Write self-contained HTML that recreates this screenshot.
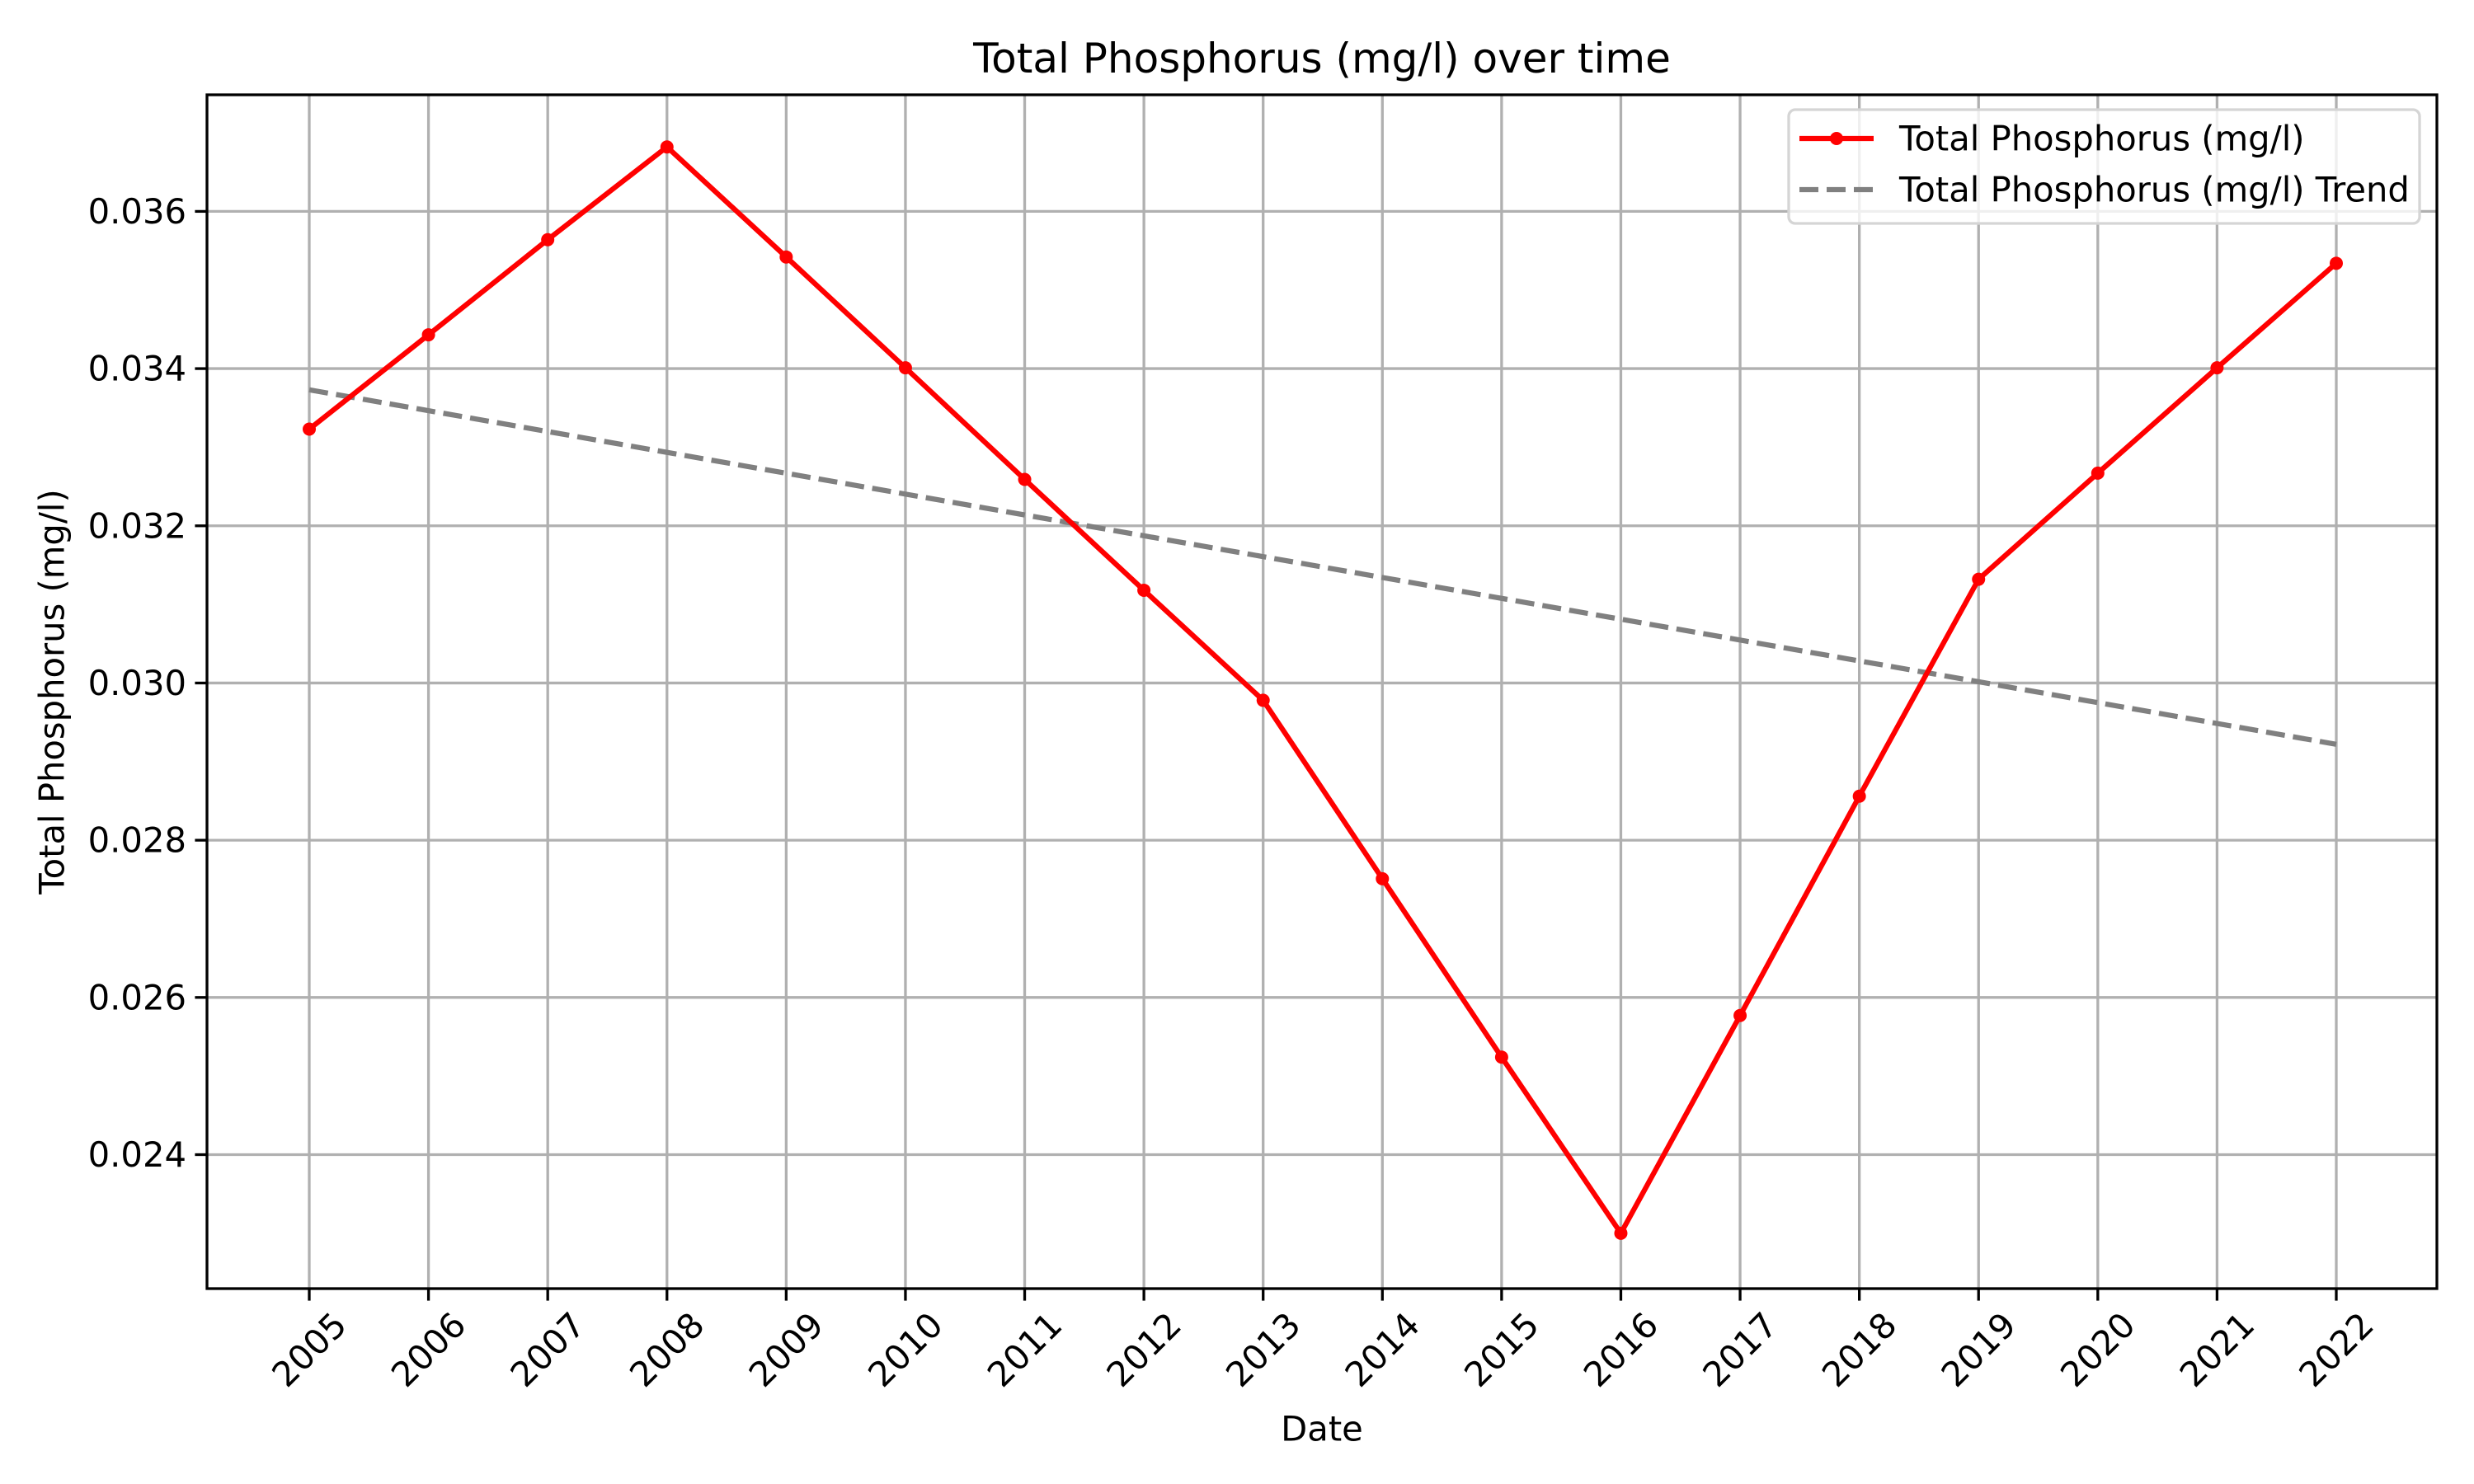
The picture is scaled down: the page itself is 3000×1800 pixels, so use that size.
<!DOCTYPE html>
<html><head><meta charset="utf-8"><style>body{margin:0;background:#fff}svg{display:block;font-family:"DejaVu Sans","Liberation Sans",sans-serif}</style></head>
<body>
<svg id="chart" width="3000" height="1800" viewBox="0 0 3000 1800" xmlns="http://www.w3.org/2000/svg">
<rect width="3000" height="1800" fill="#fff"/>
<g id="grid"></g>
<g id="series"></g>
<rect x="251" y="115" width="2704" height="1448" fill="none" stroke="#000" stroke-width="3.3"/>
<g id="ticks"></g>
<text x="1603" y="71" font-size="50" text-anchor="middle" dominant-baseline="central">Total Phosphorus (mg/l) over time</text>
<text x="1603" y="1733" font-size="41.7" text-anchor="middle" dominant-baseline="central">Date</text>
<text x="63" y="839" font-size="41.7" text-anchor="middle" dominant-baseline="central" transform="rotate(-90 63 839)">Total Phosphorus (mg/l)</text>
<g>
<rect x="2169" y="133" width="765" height="138" rx="8" fill="#fff" fill-opacity="0.8" stroke="#d5d5d5" stroke-width="3.3"/>
<line x1="2182" y1="168" x2="2272" y2="168" stroke="red" stroke-width="6.25"/>
<circle cx="2227" cy="168" r="8" fill="red"/>
<text x="2303" y="168" font-size="41.7" dominant-baseline="central">Total Phosphorus (mg/l)</text>
<line x1="2182" y1="230" x2="2272" y2="230" stroke="#808080" stroke-width="6.25" stroke-dasharray="23,10"/>
<text x="2303" y="230" font-size="41.7" dominant-baseline="central">Total Phosphorus (mg/l) Trend</text>
</g>
</svg>
<script>
const years = [2005,2006,2007,2008,2009,2010,2011,2012,2013,2014,2015,2016,2017,2018,2019,2020,2021,2022];
const values = [0.03323,0.03443,0.03564,0.03682,0.03542,0.03401,0.03259,0.03118,0.02978,0.02751,0.02524,0.02300,0.02577,0.02856,0.03132,0.03267,0.03401,0.03534];
const trendStart = 0.03373;
const trendEnd = 0.02922;
const yTicks = [0.024,0.026,0.028,0.030,0.032,0.034,0.036];
const yTickLabels = ["0.024","0.026","0.028","0.030","0.032","0.034","0.036"];

const NS = "http://www.w3.org/2000/svg";
const L=251,R=2955,T=115,B=1563;
function xs(y){return 375 + (y-2005)*(2833-375)/17;}
function ys(v){return 256.4 + (0.036-v)*(1400.5-256.4)/0.012;}
function mk(tag,attrs,parent){const e=document.createElementNS(NS,tag);for(const k in attrs)e.setAttribute(k,attrs[k]);document.getElementById(parent).appendChild(e);return e;}

years.forEach(y=>{
  const g=mk('line',{x1:xs(y),x2:xs(y),y1:T,y2:B,stroke:'#b0b0b0','stroke-width':3.3},'grid');
  
  
  const t=mk('line',{x1:xs(y),x2:xs(y),y1:B,y2:B+14.6,stroke:'#000','stroke-width':3.3},'ticks');
  
  
  const cx=xs(y), cy=B+74;
  const lb=mk('text',{x:cx,y:cy,'font-size':41.7,'text-anchor':'middle','dominant-baseline':'central',transform:`rotate(-45 ${cx} ${cy})`},'ticks');
  lb.textContent=String(y);
  
  
});
yTicks.forEach((v,i)=>{
  const g=mk('line',{x1:L,x2:R,y1:ys(v),y2:ys(v),stroke:'#b0b0b0','stroke-width':3.3},'grid');
  
  
  const t=mk('line',{x1:L-14.6,x2:L,y1:ys(v),y2:ys(v),stroke:'#000','stroke-width':3.3},'ticks');
  
  
  const lb=mk('text',{x:L-25,y:ys(v),'font-size':41.7,'text-anchor':'end','dominant-baseline':'central'},'ticks');
  lb.textContent=yTickLabels[i];
  
  
});
const tr=mk('line',{x1:xs(years[0]),y1:ys(trendStart),x2:xs(years[years.length-1]),y2:ys(trendEnd),stroke:'#808080','stroke-width':6.25,'stroke-dasharray':'23,10'},'series');


const pl=mk('polyline',{points:years.map((y,i)=>xs(y)+','+ys(values[i])).join(' '),fill:'none',stroke:'red','stroke-width':6.25,'stroke-linejoin':'round'},'series');


years.forEach((y,i)=>{
  const c=mk('circle',{cx:xs(y),cy:ys(values[i]),r:8,fill:'red'},'series');
  
  
});
</script>
</body></html>
